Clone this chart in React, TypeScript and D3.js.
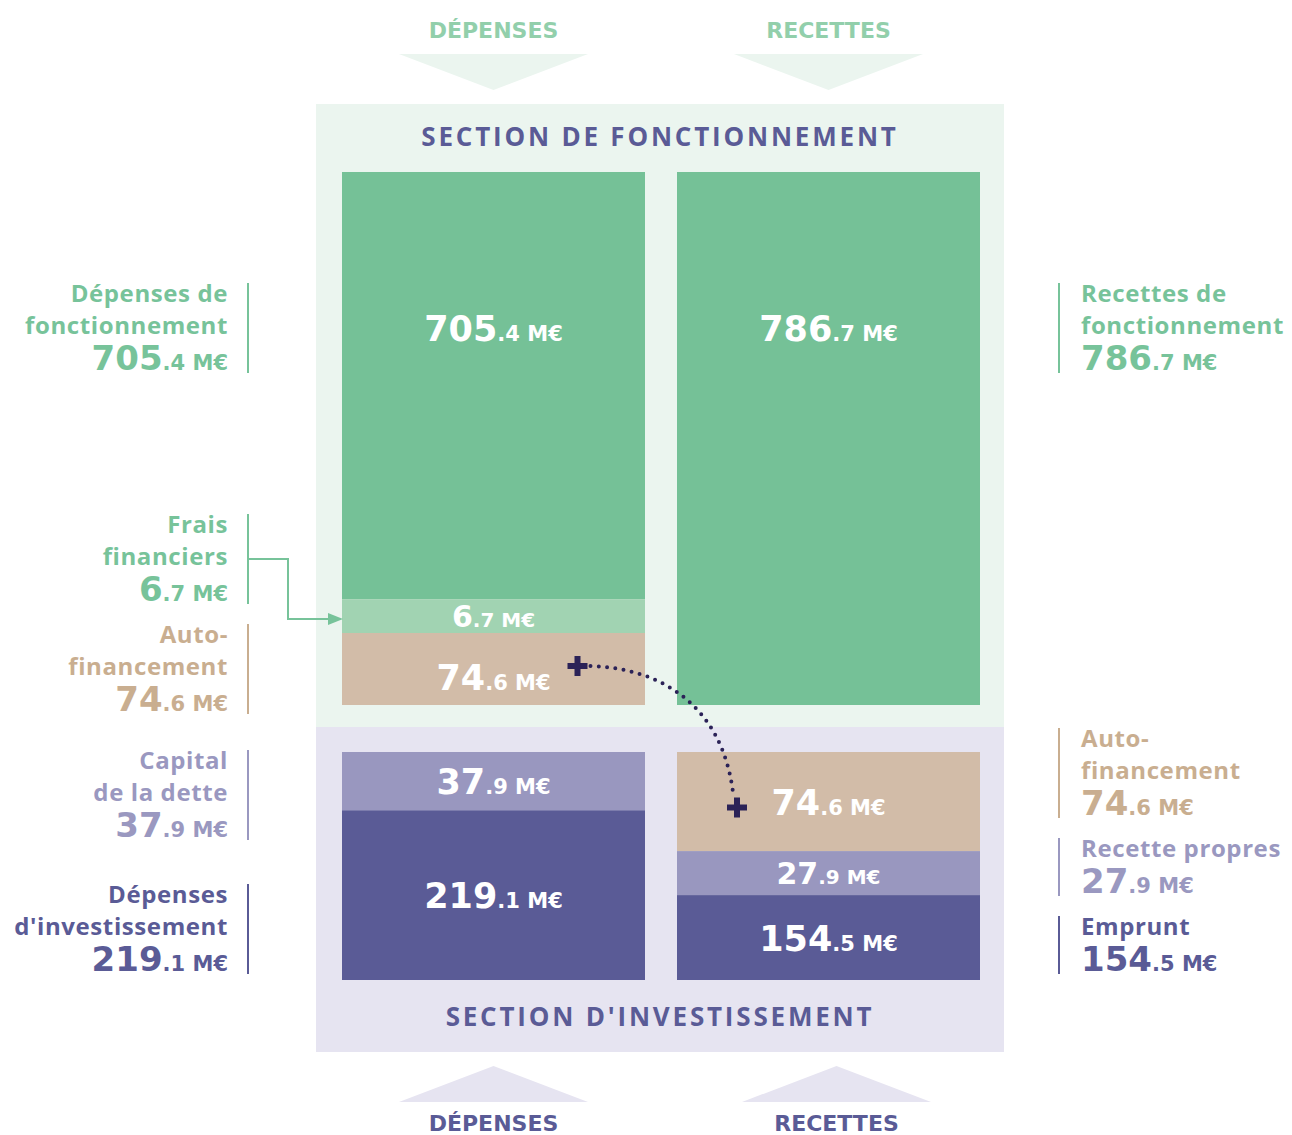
import React from 'react'
import * as d3 from 'd3'

// colonnes et titres
const columns = ['Dépenses', 'Recettes']
const headers = ['DÉPENSES', 'RECETTES']
const sectionTitles = ['SECTION DE FONCTIONNEMENT', "SECTION D'INVESTISSEMENT"]

// section de fonctionnement (M€)
const fonctDepenses = [705.4, 6.7, 74.6]
const fonctDepensesLabels = [['Dépenses de', 'fonctionnement'], ['Frais', 'financiers'], ['Auto-', 'financement']]
const fonctRecettes = [786.7]
const fonctRecettesLabels = [['Recettes de', 'fonctionnement']]

// section d'investissement (M€)
const investDepenses = [37.9, 219.1]
const investDepensesLabels = [['Capital', 'de la dette'], ['Dépenses', "d'investissement"]]
const investRecettes = [74.6, 27.9, 154.5]
const investRecettesLabels = [['Auto-', 'financement'], ['Recette propres'], ['Emprunt']]

const C = {
  green: '#75c197',
  greenLight: '#a1d3b2',
  tan: '#d2bca8',
  lav: '#9997bf',
  indigo: '#5a5b96',
  plus: '#2b2257',
  bgTop: '#ebf5ef',
  bgBot: '#e6e4f1',
  head: '#92cfab',
}
const textColor: Record<string, string> = {
  [C.green]: '#77c39a',
  [C.greenLight]: '#77c39a',
  [C.tan]: '#c9ae90',
  [C.lav]: '#9a98c0',
  [C.indigo]: '#5a5b96',
}

const W = 1292
const H = 1135
const FONT = '"Open Sans", Lato, sans-serif'
const NUM_FONT = '"DejaVu Sans", "Open Sans", sans-serif'
const x = d3.scaleBand<string>().domain(columns).range([342, 980]).paddingInner(32 / 335)
const bw = x.bandwidth()
const sectionsY = [[172, 705], [752, 980]]

type Seg = { v: number; lines: string[]; color: string; y0: number; y1: number; ly: number; col: number; sec: number; idx: number; n: number }

function stack(values: number[], lines: string[][], colors: string[], col: number, sec: number, pad: number, extraIdx = -1, extra = 0): Seg[] {
  const [top, bottom] = sectionsY[sec]
  const n = values.length
  const free = bottom - top - n * pad - (extraIdx >= 0 ? extra : 0)
  const h = d3.scaleLinear().domain([0, d3.sum(values)]).range([0, free])
  let y = top
  return values.map((v, i) => {
    const hh = pad + h(v) + (i === extraIdx ? extra : 0)
    const seg: Seg = { v, lines: lines[i], color: colors[i], y0: y, y1: y + hh, ly: 0, col, sec, idx: i, n }
    seg.ly = sec === 0 && i === 0 ? y + 156 : y + hh / 2
    y += hh
    return seg
  })
}

const stacks = [
  stack(fonctDepenses, fonctDepensesLabels, [C.green, C.greenLight, C.tan], 0, 0, 30),
  stack(fonctRecettes, fonctRecettesLabels, [C.green], 1, 0, 30),
  stack(investDepenses, investDepensesLabels, [C.lav, C.indigo], 0, 1, 35),
  stack(investRecettes, investRecettesLabels, [C.tan, C.lav, C.indigo], 1, 1, 35, 0, 40),
]

const LINE = 32
const NUM_GAP = 36
const blockHeight = (k: number) => 19 + LINE * (k - 1) + NUM_GAP + 3

function placeBlocks(segs: Seg[]) {
  const blocks = segs.map((s) => {
    const h = blockHeight(s.lines.length)
    let top = s.ly - h / 2
    if (s.sec === 1 && s.idx === 0 && s.n === 2) top = s.y0 - 2
    if (s.sec === 1 && s.idx === s.n - 1) top = s.y1 - 6 - h
    return { seg: s, top, h }
  })
  for (let i = blocks.length - 2; i >= 0; i--) {
    const maxBottom = blocks[i + 1].top - 20
    if (blocks[i].top + blocks[i].h > maxBottom) blocks[i].top = maxBottom - blocks[i].h
  }
  return blocks
}

function Amount({ v, big, small }: { v: number; big: number; small: number }) {
  const [int, dec] = v.toFixed(1).split('.')
  return (
    <>
      <tspan fontSize={big}>{int}</tspan>
      <tspan fontSize={small}>.{dec} M€</tspan>
    </>
  )
}

const plusPath = 'M-10,-3h7v-7h6v7h7v6h-7v7h-6v-7h-7z'

export default function App() {
  const srcSeg = stacks[0][2]
  const dstSeg = stacks[3][0]
  const sx = x('Dépenses')! + bw / 2 + 84
  const sy = srcSeg.ly - 3
  const tx = x('Recettes')! + 60
  const ty = dstSeg.ly + 6
  const curve = `M${sx + 13},${sy} C${sx + 83},${sy + 2} ${tx - 15},${sy + 39} ${tx - 4},${ty - 15}`

  const allBlocks = stacks.flatMap((s) => placeBlocks(s))

  return (
    <div style={{ position: 'absolute', left: 0, top: 0 }}>
      <svg width={W} height={H} style={{ display: 'block', fontFamily: FONT }}>
        <rect x={316} y={104} width={688} height={623} fill={C.bgTop} />
        <rect x={316} y={727} width={688} height={325} fill={C.bgBot} />

        {columns.map((c, i) => {
          const cx = x(c)! + bw / 2
          return (
            <g key={c}>
              <polygon points={`${cx - 94.5},54 ${cx + 94.5},54 ${cx},90`} fill={C.bgTop} />
              <text x={cx} y={38} textAnchor="middle" fontFamily={NUM_FONT} fontSize={22} fontWeight={700} fill={C.head}>
                {headers[i]}
              </text>
              <polygon points={`${cx + i * 8 - 94.5},1102 ${cx + i * 8 + 94.5},1102 ${cx + i * 8},1066`} fill={C.bgBot} />
              <text x={cx + i * 8} y={1131} textAnchor="middle" fontFamily={NUM_FONT} fontSize={22} fontWeight={700} fill={C.indigo}>
                {headers[i]}
              </text>
            </g>
          )
        })}

        <text x={660} y={146} textAnchor="middle" fontSize={26} fontWeight={700} fill={C.indigo} letterSpacing={2.8}>
          {sectionTitles[0]}
        </text>
        <text x={660} y={1026} textAnchor="middle" fontSize={26} fontWeight={700} fill={C.indigo} letterSpacing={2.8}>
          {sectionTitles[1]}
        </text>

        {stacks.flat().map((s, i) => {
          const x0 = x(columns[s.col])!
          const small = s.y1 - s.y0 < 45
          const dy = s === stacks[0][2] ? 8 : 0
          return (
            <g key={i}>
              <rect x={x0} y={s.y0} width={bw} height={s.y1 - s.y0} fill={s.color} />
              <text
                x={x0 + bw / 2}
                y={s.ly + dy + (small ? 11 : 13)}
                textAnchor="middle"
                fill="#fff"
                fontFamily={NUM_FONT}
                fontWeight={700}
              >
                <Amount v={s.v} big={small ? 30 : 35} small={small ? 20 : 21} />
              </text>
            </g>
          )
        })}

        {allBlocks.map((b, i) => {
          const s = b.seg
          const left = s.col === 0
          const lineX = left ? 248 : 1059
          const tX = left ? 228 : 1081
          const anchor = left ? 'end' : 'start'
          const col = textColor[s.color]
          const k = s.lines.length
          const numY = b.top + 19 + LINE * (k - 1) + NUM_GAP
          const center = b.top + b.h / 2
          const detached = center < s.y0 || center > s.y1
          return (
            <g key={i}>
              <line x1={lineX} x2={lineX} y1={b.top} y2={b.top + b.h} stroke={col} strokeWidth={2} />
              {s.lines.map((l, j) => (
                <text key={j} x={tX} y={b.top + 19 + LINE * j} textAnchor={anchor} fontSize={24} fontWeight={700} fill={col} letterSpacing={0.6}>
                  {l}
                </text>
              ))}
              <text x={tX} y={numY} textAnchor={anchor} fill={col} fontFamily={NUM_FONT} fontWeight={700}>
                <Amount v={s.v} big={34} small={21} />
              </text>
              {detached && left && (
                <g>
                  <path
                    d={`M${lineX},${center} H${lineX + 40} V${s.ly + 3} H${x(columns[0])! - 12}`}
                    fill="none"
                    stroke={col}
                    strokeWidth={2}
                  />
                  <polygon
                    points={`${x(columns[0])! - 14},${s.ly - 3} ${x(columns[0])! + 1},${s.ly + 3} ${x(columns[0])! - 14},${s.ly + 9}`}
                    fill={col}
                  />
                </g>
              )}
            </g>
          )
        })}

        <path d={curve} fill="none" stroke={C.plus} strokeWidth={4} strokeDasharray="0 8.3" strokeLinecap="round" />
        <path d={plusPath} transform={`translate(${sx},${sy})`} fill={C.plus} />
        <path d={plusPath} transform={`translate(${tx},${ty})`} fill={C.plus} />
      </svg>
    </div>
  )
}
